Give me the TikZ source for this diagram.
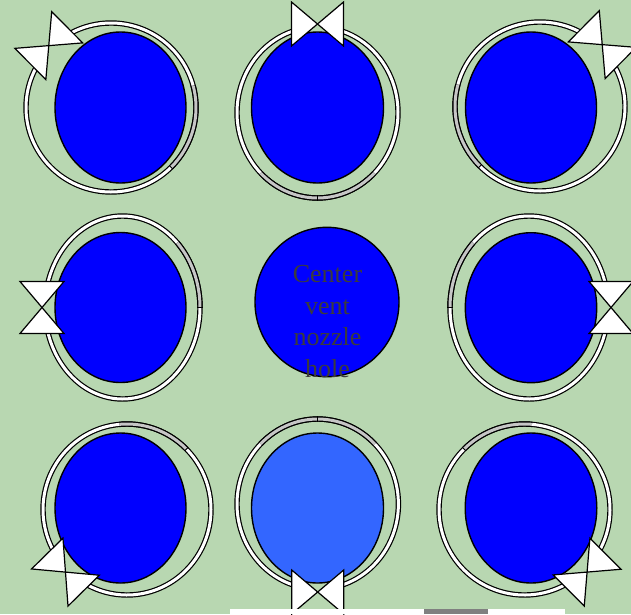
\documentclass[tikz,border=0pt]{standalone}
\usepackage{fontspec}
\setmainfont{Liberation Serif}
\usetikzlibrary{calc}

\definecolor{bgGreen}{RGB}{184,215,177}
\definecolor{holeBlue}{RGB}{0,0,255}
\definecolor{lightBlue}{RGB}{51,102,255}
\definecolor{ringGray}{RGB}{198,198,198}
\definecolor{textGray}{RGB}{60,60,60}

\tikzset{
  hole/.style={draw=black, line width=1.4pt},
  ringband/.style={draw=black, line width=1.2pt, double=white, double distance=3pt, line join=round},
  ringshade/.style={ringband, double=ringGray},
  ringhead/.style={draw=black, fill=white, line width=1.2pt, line join=miter},
}

\begin{document}
\begin{tikzpicture}[x=1pt, y=-1pt]

    % --- 1. 背景 ---
    \fill[bgGreen] (0,0) rectangle (631,614);
    \useasboundingbox (0,0) rectangle (631,614);

    % --- 2. 穴（青い楕円） ---
    \foreach \cx/\cy/\ex/\ey/\col in {120.5/107.5/65.5/75.5/holeBlue, 317.5/107.5/66/75.5/holeBlue,
        531/107.5/65.5/75.5/holeBlue, 120.5/307.5/65.5/75/holeBlue, 327/302/72/74.7/holeBlue,
        531/307.7/65.7/75/holeBlue, 120.5/508/65.5/75/holeBlue, 317.5/508/66/75/lightBlue,
        531/508/65.8/75/holeBlue} {
        \filldraw[hole, fill=\col] (\cx,\cy) ellipse[x radius=\ex, y radius=\ey];
    }

    % --- 3. 中央のラベル ---
    \node[text=textGray, font=\fontsize{26}{31.5}\selectfont, align=center,
          inner sep=0pt, anchor=north] (ventlabel) at (327.5,265.5) {Center\\vent\\nozzle\\hole};

    % --- 4. 円弧の矢印（二本で一組） ---
    \foreach \cx/\cy/\rx/\ry/\m/\ga/\gb in {111/107.5/85/84.5/225/-15/45, 317.5/112.5/80.5/85.5/270/45/135,
        540/106.5/85/84.5/315/135/195, 122.5/307.5/77.5/91.5/180/-45/0, 529/307.5/79/91.5/0/180/225,
        127/509.5/84/85.5/135/265/315, 317.7/504/80.7/85/90/225/315, 524.5/509.5/85.5/85.5/45/225/275} {
        \pgfmathsetmacro{\tk}{\m+180}
        \pgfmathsetmacro{\endA}{\m+360-16}
        \pgfmathsetmacro{\endB}{\m+16}
        % 帯
        \draw[ringband] plot[domain=\tk:\endA, samples=70] ({\cx+\rx*cos(\x)},{\cy+\ry*sin(\x)});
        \draw[ringband] plot[domain=\endB:\tk, samples=70] ({\cx+\rx*cos(\x)},{\cy+\ry*sin(\x)});
        \draw[ringshade] plot[domain=\ga:\gb, samples=30] ({\cx+\rx*cos(\x)},{\cy+\ry*sin(\x)});
        % 継ぎ目
        \draw[line width=0.9pt] ({\cx+(\rx-2.6)*cos(\tk)},{\cy+(\ry-2.6)*sin(\tk)})
            -- ({\cx+(\rx+2.6)*cos(\tk)},{\cy+(\ry+2.6)*sin(\tk)});
        % 矢じり
        \coordinate (tip) at ({\cx+(\rx+3)*cos(\m)},{\cy+(\ry+3)*sin(\m)});
        \coordinate (fwd) at ({\cx+(\rx+3)*cos(\m)-\rx*sin(\m)},{\cy+(\ry+3)*sin(\m)+\ry*cos(\m)});
        \coordinate (baseA) at ($(tip)!26pt!180:(fwd)$);
        \coordinate (baseB) at ($(tip)!26pt!(fwd)$);
        \draw[ringhead] (tip) -- ($(baseA)!22pt!90:(tip)$) -- ($(baseA)!22pt!-90:(tip)$) -- cycle;
        \draw[ringhead] (tip) -- ($(baseB)!22pt!90:(tip)$) -- ($(baseB)!22pt!-90:(tip)$) -- cycle;
    }

    % --- 5. 下端の帯 ---
    \fill[white] (230,608.5) rectangle (565,614);
    \fill[black!50] (424,608.5) rectangle (488,614);

\end{tikzpicture}
\end{document}
